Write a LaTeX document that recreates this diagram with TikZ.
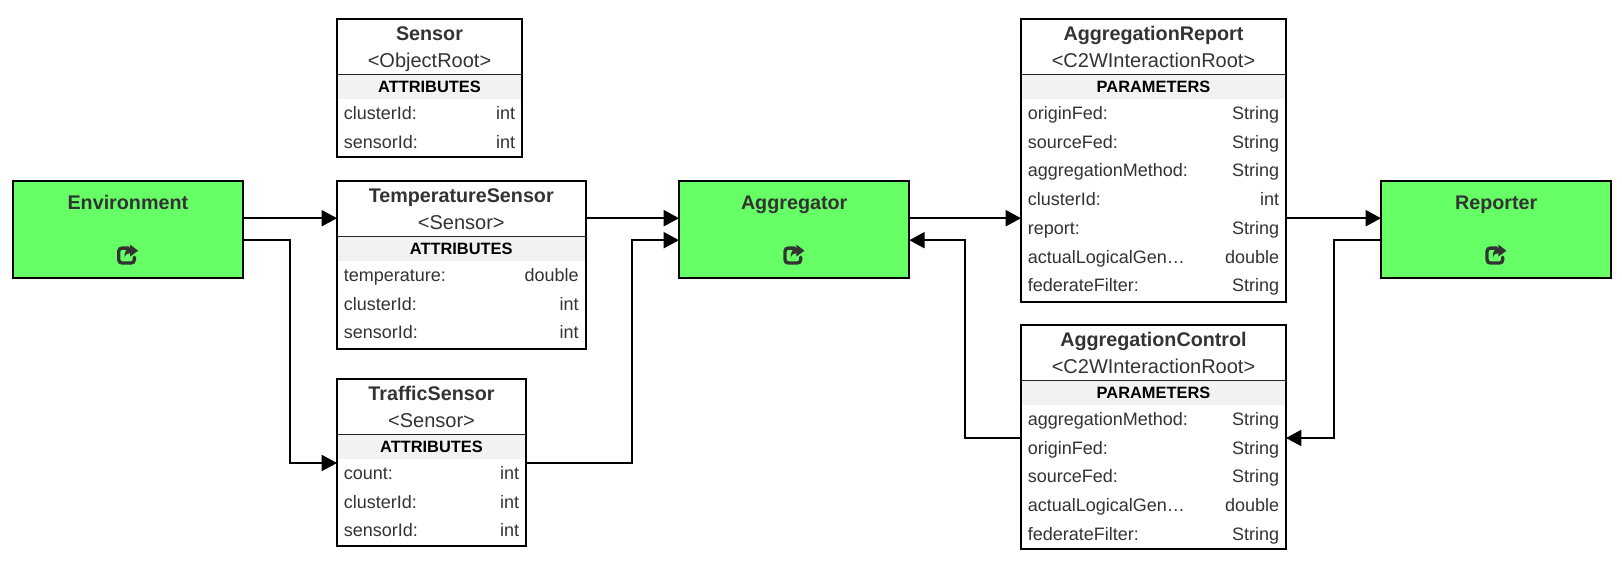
\documentclass[tikz,border=0pt]{standalone}
\usepackage{fontspec}
\setmainfont{Liberation Sans}
\usetikzlibrary{arrows.meta,calc}
\definecolor{ink}{HTML}{333333}
\definecolor{hdrgray}{HTML}{F2F2F2}
\definecolor{fedgreen}{HTML}{66FF66}
\tikzset{
  x=0.75pt,y=-0.75pt,
  classframe/.style={draw=black,line width=1.5pt,fill=white,anchor=north west,inner sep=0pt,outer sep=0pt},
  fedbox/.style={draw=black,line width=1.5pt,fill=fedgreen,anchor=north west,inner sep=0pt,outer sep=0pt,minimum width=172.75pt,minimum height=72.75pt},
  titletext/.style={inner sep=0pt,anchor=base,text=ink,font=\fontsize{14.8}{18}\selectfont\bfseries},
  subtext/.style={inner sep=0pt,anchor=base,text=ink,font=\fontsize{15}{18}\selectfont},
  hdrtext/.style={inner sep=0pt,anchor=base,text=black,font=\fontsize{12.3}{15}\selectfont\bfseries},
  rowtext/.style={inner sep=0pt,text=ink,font=\fontsize{13.5}{16}\selectfont},
  conn/.style={draw=black,line width=1.5pt,-{Triangle[length=11.5pt,width=12pt]}},
  shareicon/.pic={
    \draw[ink,line width=2.5pt,line cap=round]
      (1,-6.6) -- (-5.5,-6.6) .. controls (-7.5,-6.6) and (-8.8,-5.3) .. (-8.8,-3.5) -- (-8.8,5) .. controls (-8.8,7) and (-7.5,8.3) .. (-5.5,8.3) -- (3.5,8.3) .. controls (5.5,8.3) and (6.8,7) .. (6.8,5) -- (6.8,2.5);
    \fill[ink] (2.6,-10) -- (10.6,-4) -- (2.6,1.8) -- (2.6,-1.6) .. controls (-0.5,-1.6) and (-2.5,0) .. (-3,3.5) .. controls (-3.8,-2.5) and (-1,-6.4) .. (2.6,-6.4) -- cycle;
  }
}
\newcommand{\classbox}[9]{%
  % #1 name #2 x #3 y #4 w #5 h #6 title #7 super #8 header #9 rows
  \node[classframe,minimum width=#4*0.75pt,minimum height=#5*0.75pt] (#1) at (#2,#3) {};
  \fill[hdrgray] (#2+1,#3+55) rectangle (#2+#4-1,#3+80);
  \draw[black!85,line width=1.1pt] (#2,#3+55.3) -- (#2+#4,#3+55.3);
  \node[titletext] (#1-title) at (#2+#4/2,#3+21.7) {#6};
  \node[subtext] (#1-super) at (#2+#4/2,#3+48) {<#7>};
  \node[hdrtext] (#1-header) at (#2+#4/2,#3+73) {#8};
  \foreach \rowname/\rowtype [count=\rowi from 0] in {#9}{
    \node[rowtext,anchor=base west] (#1-name\rowi) at (#2+6.5,#3+100.4+28.75*\rowi) {\rowname};
    \node[rowtext,anchor=base east] (#1-type\rowi) at (#2+#4-6.5,#3+100.4+28.75*\rowi) {\rowtype};
  }
}
\newcommand{\fedblock}[4]{%
  \node[fedbox] (#1) at (#2,#3) {};
  \node[titletext] (#1-title) at ($(#1.north)+(0,28.3)$) {#4};
  \pic at ($(#1.north)+(-0.3,74)$) {shareicon};
}
\begin{document}
\begin{tikzpicture}
\useasboundingbox[fill=white] (0,0) rectangle (1622,561);

\fedblock{env}{12.7}{180.7}{Environment}
\fedblock{agg}{679}{180.7}{Aggregator}
\fedblock{rep}{1381}{180.7}{Reporter}

\classbox{sensor}{337}{19}{185}{138}{Sensor}{ObjectRoot}{ATTRIBUTES}{clusterId:/int,sensorId:/int}
\classbox{temp}{337}{181}{248.5}{167.5}{TemperatureSensor}{Sensor}{ATTRIBUTES}{temperature:/double,clusterId:/int,sensorId:/int}
\classbox{traffic}{337}{379}{189}{166.5}{TrafficSensor}{Sensor}{ATTRIBUTES}{count:/int,clusterId:/int,sensorId:/int}
\classbox{report}{1021}{19}{265}{282.5}{AggregationReport}{C2WInteractionRoot}{PARAMETERS}{originFed:/String,sourceFed:/String,aggregationMethod:/String,clusterId:/int,report:/String,actualLogicalGen…/double,federateFilter:/String}
\classbox{control}{1021}{325}{265}{224}{AggregationControl}{C2WInteractionRoot}{PARAMETERS}{aggregationMethod:/String,originFed:/String,sourceFed:/String,actualLogicalGen…/double,federateFilter:/String}

% connector anchor points
\coordinate (envA) at ($(env.north east)+(0,37.5)$);
\coordinate (envB) at ($(env.north east)+(0,59.5)$);
\coordinate (aggA) at ($(agg.north west)+(0,37.5)$);
\coordinate (aggB) at ($(agg.north west)+(0,59.5)$);
\coordinate (aggC) at ($(agg.north east)+(0,37.5)$);
\coordinate (aggD) at ($(agg.north east)+(0,59.5)$);
\coordinate (repA) at ($(rep.north west)+(0,37.5)$);
\coordinate (repB) at ($(rep.north west)+(0,59.5)$);
\coordinate (trafficIn) at (traffic.west |- 0,463);
\coordinate (trafficOut) at (traffic.east |- 0,463);
\coordinate (controlL) at (control.west |- 0,438);
\coordinate (controlR) at (control.east |- 0,438);
\coordinate (busA) at (290,0);
\coordinate (busB) at (632,0);
\coordinate (busC) at (965,0);
\coordinate (busD) at (1334,0);

\draw[conn] (envA) -- (envA -| temp.west);
\draw[conn] (envB) -- (envB -| busA) -- (busA |- trafficIn) -- (trafficIn);
\draw[conn] (aggA -| temp.east) -- (aggA);
\draw[conn] (trafficOut) -- (trafficOut -| busB) -- (busB |- aggB) -- (aggB);
\draw[conn] (aggC) -- (aggC -| report.west);
\draw[conn] (controlL) -- (controlL -| busC) -- (busC |- aggD) -- (aggD);
\draw[conn] (repA -| report.east) -- (repA);
\draw[conn] (repB) -- (repB -| busD) -- (busD |- controlR) -- (controlR);
\end{tikzpicture}
\end{document}
